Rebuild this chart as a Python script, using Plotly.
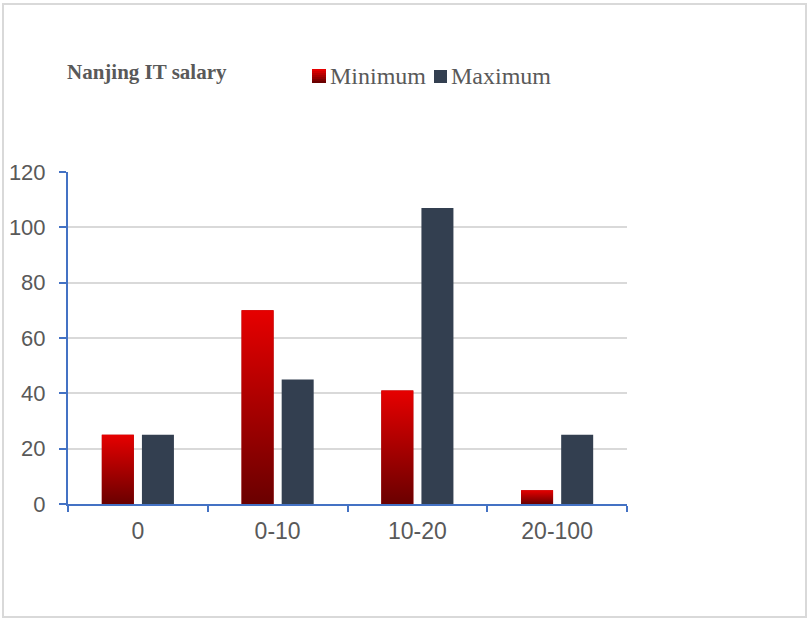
import plotly.graph_objects as go

categories = ["0", "0-10", "10-20", "20-100"]
minimum = [25, 70, 41, 5]
maximum = [25, 45, 107, 25]
y_ticks = [0, 20, 40, 60, 80, 100, 120]
series_names = ["Minimum", "Maximum"]

W, H = 807, 619
L, R, T, B = 68, 180, 172, 115
pw, ph = W - L - R, H - T - B


def px_x(p):
    return (p - L) / pw


def px_y(p):
    return (H - B - p) / ph


bw = 0.229
pad = 0.029
xpos = list(range(len(categories)))
red_top, red_bot = "#e60000", "#6a0000"
navy = "#333f50"

fig = go.Figure()
fig.add_trace(go.Bar(
    x=xpos, y=minimum, name=series_names[0], width=bw, offset=-(bw + pad),
    marker=dict(color="#a00000", line=dict(width=0)), showlegend=False,
))
fig.add_trace(go.Bar(
    x=xpos, y=maximum, name=series_names[1], width=bw, offset=pad,
    marker=dict(color=navy, line=dict(width=0)), showlegend=False,
))

# gradient overlay for Minimum bars
for i, v in zip(xpos, minimum):
    x0 = i - (bw + pad)
    x1 = x0 + bw
    fig.add_trace(go.Scatter(
        x=[x0, x1, x1, x0, x0], y=[0, 0, v, v, 0],
        mode="lines", line=dict(width=0), fill="toself",
        fillgradient=dict(type="vertical", start=0, stop=v,
                          colorscale=[[0, red_bot], [1, red_top]]),
        showlegend=False, hoverinfo="skip",
    ))

axis_blue = "#4472c4"
fig.update_layout(
    width=W, height=H,
    margin=dict(l=L, r=R, t=T, b=B, pad=0, autoexpand=False),
    paper_bgcolor="white", plot_bgcolor="white",
    barmode="overlay",
    showlegend=False,
    font=dict(family="Liberation Sans, Arial, sans-serif", color="#595959"),
    title=dict(text="<b>Nanjing IT salary</b>", x=67 / W, xanchor="left",
               y=1 - 72 / H, yanchor="middle", xref="container", yref="container",
               font=dict(family="Liberation Serif, Times New Roman, serif", size=21, color="#595959")),
    xaxis=dict(range=[-0.5, 3.5], tickvals=xpos, ticktext=categories, automargin=False,
               showgrid=False, zeroline=False, showline=True, linecolor=axis_blue, linewidth=2,
               ticks="", ticklabelstandoff=5, tickfont=dict(size=23, color="#595959"),
               minor=dict(tick0=-0.5, dtick=1, ticks="outside", ticklen=6, tickwidth=2,
                          tickcolor=axis_blue, showgrid=False),
               fixedrange=True),
    yaxis=dict(range=[0, 120], tickvals=y_ticks, showgrid=True, gridcolor="#d9d9d9", gridwidth=2,
               automargin=False,
               zeroline=False, showline=True, linecolor=axis_blue, linewidth=2,
               ticks="outside", ticklen=7, tickwidth=2, tickcolor=axis_blue,
               ticklabelstandoff=9,
               tickfont=dict(size=22, color="#595959"), fixedrange=True),
)

# custom legend: squares and labels
sq_y0, sq_y1 = 69, 83
n_strips = 7
step = (sq_y1 - sq_y0) / n_strips
for k in range(n_strips):
    t = k / (n_strips - 1)
    r = int(0x6a + (0xe6 - 0x6a) * t)
    ya = sq_y1 - step * k
    yb = max(sq_y0, ya - step - 1)
    fig.add_shape(type="rect", xref="paper", yref="paper",
                  x0=px_x(312), x1=px_x(326), y0=px_y(ya), y1=px_y(yb),
                  line=dict(width=0), fillcolor=f"rgb({r},0,0)")
fig.add_shape(type="rect", xref="paper", yref="paper",
              x0=px_x(434), x1=px_x(447), y0=px_y(70), y1=px_y(83),
              line=dict(width=0), fillcolor=navy)
for name, xl in zip(series_names, [328, 449]):
    fig.add_annotation(text=name, xref="paper", yref="paper",
                       x=px_x(xl), y=px_y(76), xanchor="left", yanchor="middle",
                       showarrow=False,
                       font=dict(family="Liberation Serif, Times New Roman, serif", size=24,
                                 color="#595959"))

# outer border
fig.add_shape(type="rect", xref="paper", yref="paper",
              x0=px_x(3), x1=px_x(806),
              y0=px_y(617), y1=px_y(4),
              line=dict(color="#d9d9d9", width=2), layer="below")

fig.write_html("out.html")
